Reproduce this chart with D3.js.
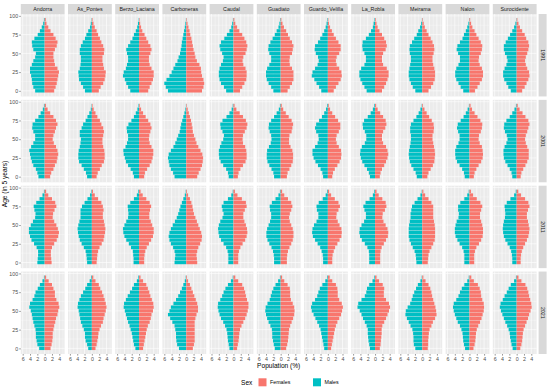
<!DOCTYPE html>
<html><head><meta charset="utf-8">
<script src="https://cdn.jsdelivr.net/npm/d3@7"></script>
<style>body{margin:0;background:#fff}svg{display:block;font-family:"Liberation Sans",Arial,sans-serif}</style>
</head><body><svg id="c" width="550" height="391"></svg>
<script>
const regions = ["Andorra","As_Pontes","Berzo_Laciana","Carboneras","Caudal","Guadiato","Guardo_Velilla","La_Robla","Meirama","Nalon","Surocidente"];
const years = ["1991","2001","2011","2021"];
const ages = [0,5,10,15,20,25,30,35,40,45,50,55,60,65,70,75,80,85,90,95];
const xTicks = [-6,-4,-2,0,2,4];
const yTicks = [0,25,50,75,100];
const sexes = ["Females","Males"];

const males1991 = [
[2.6,3.1,3.4,3.5,3.7,4.0,4.0,3.5,3.1,2.6,2.4,3.1,3.4,3.5,2.8,1.9,1.3,0.8,0.4,0.2],
[1.9,2.4,3.0,3.5,3.6,3.7,3.3,3.1,3.0,3.0,3.3,3.3,3.0,2.5,1.9,1.5,1.0,0.5,0.3,0.1],
[2.4,3.0,3.5,3.9,4.4,4.2,3.6,3.3,3.0,3.0,3.3,3.5,3.0,2.4,1.8,1.4,0.9,0.5,0.3,0.1],
[5.0,5.6,6.0,5.4,4.6,4.0,3.5,3.0,2.4,2.1,1.7,1.5,1.3,1.2,1.0,0.8,0.6,0.4,0.25,0.1],
[2.0,2.6,3.4,3.8,4.0,4.0,3.8,3.4,2.9,2.7,3.1,3.6,3.8,3.4,2.5,1.8,1.1,0.6,0.35,0.15],
[2.0,2.6,3.3,3.8,4.0,4.0,3.7,3.1,2.6,2.6,3.1,3.4,3.3,2.8,2.2,1.6,1.1,0.6,0.35,0.15],
[1.8,2.4,3.1,3.7,4.4,4.2,3.5,2.8,2.5,2.7,3.3,3.6,3.5,2.7,2.1,1.5,1.0,0.6,0.35,0.15],
[2.3,2.9,3.5,4.0,4.3,4.3,3.8,2.9,2.5,2.5,2.9,3.4,3.5,3.4,2.5,1.7,1.1,0.6,0.4,0.15],
[1.9,2.6,3.1,3.5,3.7,3.7,3.5,3.3,3.1,3.1,3.4,3.5,3.4,2.8,2.2,1.5,1.1,0.6,0.3,0.1],
[1.7,2.4,3.0,3.6,3.9,3.9,3.6,3.0,2.6,2.6,3.1,3.5,3.3,2.6,1.9,1.5,1.0,0.6,0.3,0.1],
[1.6,2.3,2.8,3.4,3.7,3.7,3.3,2.8,2.5,2.7,3.2,3.5,3.5,3.0,2.4,1.8,1.2,0.7,0.35,0.1]];
const females1991 = [
[2.6,3.0,3.3,3.5,3.7,3.9,3.5,2.8,2.6,2.4,2.4,2.8,3.3,3.5,3.0,2.4,1.6,1.0,0.5,0.3],
[1.9,2.4,3.1,3.5,3.7,3.8,3.3,3.1,2.9,2.9,3.3,3.4,3.1,2.6,2.2,1.7,1.3,0.8,0.45,0.2],
[2.5,2.9,3.4,3.8,4.0,4.0,3.4,2.9,2.7,2.7,3.1,3.4,3.1,2.5,2.0,1.5,0.9,0.55,0.3,0.15],
[4.3,4.7,4.9,4.7,4.3,4.1,4.0,3.6,2.9,2.5,2.3,2.0,1.8,1.6,1.4,1.1,0.9,0.6,0.35,0.15],
[1.8,2.4,3.0,3.5,3.6,3.6,3.3,2.7,2.5,2.7,3.3,3.6,3.8,3.5,3.0,2.4,1.6,1.0,0.5,0.25],
[1.9,2.5,3.1,3.5,3.5,3.5,3.1,2.5,2.4,2.5,3.1,3.3,3.5,3.1,2.5,2.0,1.5,0.9,0.5,0.2],
[1.6,2.2,2.9,3.5,3.8,3.7,3.1,2.4,2.2,2.4,3.1,3.5,3.5,2.9,2.2,1.6,1.1,0.6,0.3,0.15],
[1.9,2.5,3.0,3.4,3.7,3.7,3.2,2.2,1.9,1.9,2.2,2.9,3.2,3.0,2.5,1.9,1.2,0.7,0.4,0.2],
[1.7,2.4,3.0,3.4,3.5,3.5,3.3,3.0,2.8,2.8,3.1,3.3,3.2,2.8,2.3,1.7,1.2,0.7,0.4,0.15],
[1.5,2.2,2.8,3.4,3.7,3.7,3.4,2.8,2.5,2.6,3.1,3.4,3.5,3.1,2.5,1.9,1.4,0.8,0.45,0.2],
[1.5,2.2,2.7,3.2,3.5,3.4,2.9,2.5,2.3,2.5,2.9,3.2,3.4,3.2,2.6,2.2,1.5,0.9,0.5,0.2]];
const males2001 = [
[1.7,2.0,2.4,3.1,3.5,3.8,4.0,4.2,3.7,3.1,2.6,2.6,3.1,3.4,3.3,2.6,1.7,1.1,0.5,0.2],
[1.3,1.6,2.2,2.8,3.5,3.7,3.7,3.6,3.3,3.1,3.0,3.3,3.3,2.8,2.4,1.7,1.2,0.7,0.3,0.1],
[1.4,1.7,2.3,3.0,3.6,3.9,4.2,4.3,3.7,3.3,3.0,3.0,3.3,3.4,2.9,2.1,1.4,0.9,0.45,0.15],
[3.2,3.6,4.2,4.6,4.8,5.0,4.8,4.2,3.5,3.0,2.6,2.2,1.8,1.6,1.4,1.1,0.8,0.5,0.25,0.1],
[1.3,1.5,2.0,2.8,3.5,3.9,4.0,4.0,3.7,3.3,2.8,2.6,3.0,3.5,3.6,3.0,1.9,1.1,0.5,0.2],
[1.8,2.0,2.5,3.1,3.6,3.8,3.8,3.7,3.2,2.7,2.5,2.6,3.0,3.3,3.2,2.6,1.8,1.1,0.5,0.2],
[1.3,1.5,2.0,2.7,3.4,3.9,4.2,4.2,3.5,2.8,2.5,2.6,3.2,3.5,3.2,2.4,1.6,1.0,0.5,0.2],
[1.4,1.7,2.2,2.9,3.5,3.9,4.1,4.0,3.6,2.8,2.4,2.4,2.8,3.3,3.4,3.0,2.0,1.2,0.6,0.2],
[1.5,1.8,2.4,3.0,3.4,3.6,3.7,3.6,3.4,3.2,3.1,3.1,3.3,3.3,3.1,2.4,1.6,1.0,0.5,0.15],
[1.3,1.5,2.0,2.7,3.4,3.8,3.9,3.9,3.6,3.0,2.7,2.7,3.1,3.4,3.2,2.4,1.6,1.0,0.5,0.15],
[1.2,1.4,1.9,2.5,3.1,3.5,3.6,3.6,3.3,2.8,2.5,2.7,3.2,3.5,3.4,2.8,1.9,1.2,0.6,0.2]];
const females2001 = [
[1.5,1.8,2.4,2.8,3.3,3.5,3.7,3.5,3.1,2.5,2.2,2.4,2.8,3.1,3.5,3.1,2.4,1.5,0.8,0.35],
[1.3,1.6,2.2,2.7,3.3,3.5,3.5,3.4,3.1,2.9,2.9,3.1,3.3,3.1,2.6,2.2,1.5,1.0,0.5,0.2],
[1.4,1.6,2.2,2.9,3.4,3.7,3.9,3.9,3.4,2.9,2.7,2.8,3.1,3.4,3.1,2.5,1.8,1.1,0.55,0.2],
[3.0,3.4,3.9,4.3,4.5,4.6,4.4,3.9,3.3,2.8,2.5,2.1,1.8,1.7,1.5,1.3,1.0,0.7,0.4,0.15],
[1.2,1.4,1.9,2.6,3.3,3.6,3.6,3.5,3.2,2.6,2.5,2.6,3.1,3.6,3.8,3.4,2.6,1.7,0.8,0.3],
[1.7,1.9,2.4,2.9,3.3,3.4,3.4,3.2,2.7,2.3,2.3,2.4,3.0,3.2,3.4,3.0,2.2,1.4,0.7,0.3],
[1.2,1.4,1.9,2.6,3.2,3.6,3.7,3.6,3.0,2.4,2.2,2.4,3.0,3.4,3.4,2.8,2.0,1.2,0.6,0.25],
[1.3,1.5,1.9,2.5,3.0,3.4,3.6,3.4,3.0,2.2,1.9,1.9,2.2,2.8,3.1,2.9,2.2,1.4,0.7,0.3],
[1.4,1.7,2.3,2.9,3.3,3.4,3.5,3.4,3.2,3.0,2.8,2.8,3.1,3.2,3.1,2.6,1.9,1.2,0.6,0.2],
[1.2,1.4,1.9,2.5,3.2,3.6,3.7,3.6,3.4,2.8,2.5,2.6,3.1,3.4,3.5,3.0,2.2,1.4,0.7,0.3],
[1.1,1.3,1.8,2.4,2.9,3.3,3.3,3.3,2.9,2.5,2.3,2.5,2.9,3.2,3.5,3.2,2.4,1.6,0.8,0.3]];
const males2011 = [
[2.0,1.9,1.8,1.8,2.2,2.9,3.6,4.0,4.3,4.3,3.8,3.2,2.6,2.5,2.8,3.0,2.3,1.4,0.6,0.2],
[1.3,1.4,1.5,1.7,2.2,2.8,3.3,3.6,3.8,3.9,3.7,3.4,3.1,3.1,3.1,2.7,2.0,1.2,0.5,0.15],
[1.5,1.5,1.6,1.7,2.2,2.8,3.5,4.0,4.3,4.4,4.0,3.5,3.0,2.9,3.0,3.1,2.4,1.4,0.6,0.2],
[3.2,3.1,3.0,3.2,3.6,4.2,4.6,4.8,4.6,4.2,3.7,3.1,2.6,2.2,1.9,1.6,1.2,0.8,0.4,0.15],
[1.4,1.4,1.4,1.6,2.0,2.7,3.4,3.9,4.1,4.2,4.0,3.6,3.0,2.7,3.0,3.2,2.7,1.5,0.6,0.2],
[1.8,1.8,1.9,2.1,2.5,3.1,3.6,3.9,3.9,3.7,3.3,2.9,2.6,2.6,2.9,3.0,2.4,1.4,0.6,0.2],
[1.3,1.3,1.4,1.7,2.1,2.8,3.5,4.1,4.3,4.2,3.8,3.1,2.6,2.6,3.0,3.1,2.5,1.4,0.6,0.2],
[1.6,1.6,1.6,1.7,2.1,2.8,3.6,4.1,4.3,4.2,3.7,3.0,2.5,2.5,2.9,3.2,2.6,1.5,0.6,0.2],
[1.6,1.7,1.8,2.1,2.6,3.1,3.5,3.7,3.7,3.7,3.6,3.4,3.2,3.2,3.0,2.8,2.1,1.3,0.5,0.15],
[1.4,1.4,1.4,1.6,2.0,2.7,3.3,3.8,4.0,4.0,3.8,3.5,3.0,2.9,3.1,3.1,2.5,1.4,0.6,0.2],
[1.2,1.2,1.3,1.5,1.9,2.5,3.1,3.5,3.7,3.8,3.7,3.5,3.2,3.1,3.2,3.3,2.7,1.7,0.7,0.25]];
const females2011 = [
[1.9,1.8,1.7,1.7,2.0,2.6,3.3,3.7,3.9,3.6,3.2,2.6,2.2,2.3,2.7,3.2,2.9,2.0,1.0,0.4],
[1.3,1.4,1.5,1.7,2.1,2.7,3.2,3.4,3.6,3.7,3.5,3.3,3.0,3.0,3.2,3.0,2.6,1.7,0.8,0.3],
[1.4,1.4,1.5,1.7,2.1,2.7,3.3,3.8,4.0,4.0,3.6,3.2,2.8,2.8,3.0,3.3,2.9,2.0,1.0,0.4],
[3.0,2.9,2.8,3.0,3.3,3.8,4.2,4.3,4.1,3.7,3.3,2.9,2.5,2.1,1.9,1.7,1.4,1.0,0.5,0.2],
[1.3,1.3,1.3,1.5,1.9,2.5,3.2,3.6,3.8,3.7,3.4,3.0,2.7,2.7,3.1,3.6,3.4,2.3,1.1,0.4],
[1.7,1.7,1.8,2.0,2.4,2.9,3.3,3.5,3.5,3.3,2.9,2.5,2.3,2.5,2.9,3.2,2.9,2.0,1.0,0.4],
[1.2,1.2,1.3,1.6,2.0,2.6,3.2,3.7,3.8,3.7,3.2,2.7,2.3,2.4,2.9,3.3,2.9,1.9,0.9,0.35],
[1.4,1.4,1.4,1.5,1.8,2.4,3.0,3.5,3.6,3.4,2.9,2.3,2.0,2.1,2.7,3.1,2.9,2.0,1.0,0.4],
[1.5,1.6,1.7,2.0,2.5,3.0,3.4,3.5,3.5,3.5,3.4,3.2,3.0,3.0,3.0,3.0,2.5,1.7,0.8,0.3],
[1.3,1.3,1.3,1.5,1.9,2.6,3.2,3.6,3.7,3.7,3.5,3.2,2.9,2.9,3.2,3.5,3.0,2.0,1.0,0.4],
[1.1,1.1,1.2,1.4,1.8,2.3,2.8,3.2,3.4,3.5,3.3,3.1,2.8,2.8,3.1,3.5,3.2,2.3,1.2,0.45]];
const males2021 = [
[1.5,2.0,2.2,2.4,2.4,2.5,2.8,3.1,3.3,3.5,3.8,4.2,4.0,3.3,2.8,2.5,1.9,1.3,0.6,0.2],
[1.0,1.3,1.7,1.9,1.9,2.2,2.6,3.0,3.2,3.4,3.6,3.9,3.8,3.4,3.0,2.4,1.8,1.3,0.6,0.2],
[1.0,1.4,1.6,1.8,2.0,2.3,2.6,3.0,3.3,3.6,3.9,4.2,4.1,3.6,3.1,2.5,1.9,1.4,0.6,0.2],
[2.0,2.5,2.7,2.8,2.8,3.0,3.2,3.8,4.4,5.0,4.6,4.2,3.5,2.8,2.2,1.7,1.2,0.8,0.4,0.15],
[1.1,1.3,1.5,1.6,1.7,1.9,2.3,2.8,3.4,3.8,4.1,4.3,4.2,3.6,3.1,2.7,2.2,1.5,0.7,0.2],
[1.6,1.9,2.1,2.3,2.3,2.4,2.8,3.3,3.7,4.0,4.2,4.1,3.6,3.0,2.7,2.4,2.0,1.4,0.7,0.2],
[1.0,1.2,1.4,1.6,1.8,2.0,2.4,2.9,3.4,3.9,4.4,4.6,4.3,3.5,2.9,2.6,2.2,1.5,0.7,0.2],
[1.4,1.6,1.8,1.9,2.0,2.0,2.3,2.8,3.3,3.7,4.2,4.8,4.6,3.7,2.8,2.4,2.2,1.6,0.7,0.2],
[1.9,2.3,2.4,2.4,2.5,2.7,3.2,3.7,4.2,4.6,4.5,4.0,3.3,2.9,2.6,2.2,1.7,1.2,0.5,0.15],
[1.2,1.5,1.7,1.8,1.9,2.2,2.6,3.2,3.6,4.0,4.3,4.5,4.3,3.6,3.0,2.6,2.1,1.4,0.6,0.2],
[1.1,1.4,1.6,1.8,1.9,2.2,2.6,3.1,3.5,3.9,4.3,4.6,4.4,3.8,3.3,2.7,2.2,1.6,0.7,0.2]];
const females2021 = [
[1.6,1.9,2.1,2.2,2.2,2.4,2.6,2.9,3.1,3.5,3.7,4.0,3.8,3.2,2.8,2.8,2.4,2.0,1.1,0.4],
[1.0,1.3,1.5,1.7,1.8,2.1,2.5,3.0,3.2,3.5,3.8,4.0,3.8,3.5,3.2,2.8,2.3,1.9,1.0,0.4],
[1.1,1.3,1.5,1.7,1.9,2.1,2.4,2.9,3.2,3.4,3.8,4.0,3.9,3.5,3.1,2.8,2.4,2.0,1.1,0.4],
[1.8,2.1,2.3,2.3,2.3,2.3,2.3,2.3,2.5,2.8,3.2,3.2,3.0,2.6,2.2,1.8,1.4,1.0,0.5,0.2],
[1.0,1.2,1.4,1.5,1.6,1.8,2.2,2.7,3.2,3.6,3.9,4.1,4.1,3.7,3.4,3.2,2.9,2.4,1.3,0.5],
[1.5,1.8,2.0,2.1,2.2,2.3,2.6,3.0,3.4,3.7,3.8,3.7,3.3,2.8,2.6,2.6,2.5,1.9,1.0,0.4],
[0.9,1.1,1.3,1.5,1.7,1.9,2.2,2.6,3.1,3.6,3.9,4.1,3.8,3.1,2.7,2.7,2.6,2.2,1.2,0.5],
[1.3,1.5,1.6,1.7,1.8,1.8,2.0,2.5,3.0,3.4,3.8,4.1,3.8,3.0,2.4,2.4,2.5,2.1,1.1,0.4],
[1.5,1.6,1.6,1.7,1.8,2.0,2.5,2.9,3.5,3.9,3.8,3.6,3.3,3.0,2.7,2.5,2.2,1.7,0.9,0.3],
[1.1,1.4,1.6,1.7,1.8,2.0,2.4,2.9,3.3,3.6,3.9,4.0,3.9,3.5,3.2,3.1,2.8,2.3,1.2,0.5],
[1.0,1.3,1.5,1.6,1.7,1.9,2.3,2.7,3.1,3.4,3.8,4.1,4.0,3.7,3.4,3.2,2.9,2.4,1.3,0.5]];

const malesByYear = [males1991, males2001, males2011, males2021];
const femalesByYear = [females1991, females2001, females2011, females2021];

const colFemale = "#F8766D", colMale = "#00BFC4";
const L = 20.8, PW = 43.8, GAP = 3.4, T = 14, PH = 82.45;
const svg = d3.select("#c");
const x = d3.scaleLinear().domain([-6.52, 5.45]).range([0, PW]);
const y = d3.scaleLinear().domain([-7.5, 102.5]).range([PH, 0]);
const bw = 2.25;
const xMinor = [-5,-3,-1,1,3,5], yMinor = [12.5,37.5,62.5,87.5];

years.forEach((yr, r) => {
  regions.forEach((reg, c) => {
    const g = svg.append("g").attr("transform", `translate(${L + c*(PW+GAP)},${T + r*(PH+GAP)})`);
    g.append("rect").attr("width", PW).attr("height", PH).attr("fill", "#EBEBEB");
    g.selectAll("line.vmin").data(xMinor).join("line").attr("x1", d=>x(d)).attr("x2", d=>x(d)).attr("y1",0).attr("y2",PH).attr("stroke","#fff").attr("stroke-width",0.3);
    g.selectAll("line.hmin").data(yMinor).join("line").attr("y1", d=>y(d)).attr("y2", d=>y(d)).attr("x1",0).attr("x2",PW).attr("stroke","#fff").attr("stroke-width",0.3);
    g.selectAll("line.vmaj").data(xTicks).join("line").attr("x1", d=>x(d)).attr("x2", d=>x(d)).attr("y1",0).attr("y2",PH).attr("stroke","#fff").attr("stroke-width",0.6);
    g.selectAll("line.hmaj").data(yTicks).join("line").attr("y1", d=>y(d)).attr("y2", d=>y(d)).attr("x1",0).attr("x2",PW).attr("stroke","#fff").attr("stroke-width",0.6);
    const m = malesByYear[r][c], f = femalesByYear[r][c];
    g.selectAll("rect.m").data(ages).join("rect").attr("class","m")
      .attr("x", (d,i)=>x(-m[i])).attr("width",(d,i)=>x(0)-x(-m[i]))
      .attr("y", d=>y(d+bw)).attr("height", d=>y(d-bw)-y(d+bw)).attr("fill", colMale);
    g.selectAll("rect.f").data(ages).join("rect").attr("class","f")
      .attr("x", x(0)).attr("width",(d,i)=>x(f[i])-x(0))
      .attr("y", d=>y(d+bw)).attr("height", d=>y(d-bw)-y(d+bw)).attr("fill", colFemale);
    if (r === 0) {
      const s = svg.append("g").attr("transform", `translate(${L + c*(PW+GAP)},4)`);
      s.append("rect").attr("width", PW).attr("height", T-4).attr("fill", "#D9D9D9");
      s.append("text").attr("x", PW/2).attr("y", (T-4)/2).attr("dy","0.35em").attr("text-anchor","middle")
        .attr("font-size", 5.3).attr("fill", "#1A1A1A").text(reg);
    }
    if (c === 0) {
      const ax = g.append("g").call(d3.axisLeft(y).tickValues(yTicks).tickSize(1.6).tickPadding(1));
      ax.select(".domain").remove();
      ax.selectAll("line").attr("stroke","#333").attr("stroke-width",0.5);
      ax.selectAll("text").attr("font-size",5.3).attr("fill","#4D4D4D").attr("font-family",null);
    }
    if (r === years.length-1) {
      const ax = g.append("g").attr("transform",`translate(0,${PH})`).call(d3.axisBottom(x).tickValues(xTicks).tickSize(1.6).tickPadding(1.2).tickFormat(d=>Math.abs(d)));
      ax.select(".domain").remove();
      ax.selectAll("line").attr("stroke","#333").attr("stroke-width",0.5);
      ax.selectAll("text").attr("font-size",5.3).attr("fill","#4D4D4D").attr("font-family",null);
    }
  });
  const sx = L + regions.length*(PW+GAP) - GAP + 2;
  const sy = T + r*(PH+GAP);
  const s = svg.append("g").attr("transform", `translate(${sx},${sy})`);
  s.append("rect").attr("width", 8).attr("height", PH).attr("fill", "#D9D9D9");
  s.append("text").attr("transform", `translate(4,${PH/2}) rotate(90)`).attr("dy","0.35em").attr("text-anchor","middle")
    .attr("font-size",5.3).attr("fill","#1A1A1A").text(yr);
});

svg.append("text").attr("x", (L + L + regions.length*(PW+GAP) - GAP)/2).attr("y", 367.5).attr("text-anchor","middle")
  .attr("font-size",6.6).attr("fill","#000").text("Population (%)");
svg.append("text").attr("transform", `translate(6.5,${T + (4*PH+3*GAP)/2}) rotate(-90)`).attr("text-anchor","middle")
  .attr("font-size",6.6).attr("fill","#000").text("Age (in 5 years)");

const lg = svg.append("g");
lg.append("text").attr("x",241).attr("y",384.6).attr("font-size",6.6).attr("fill","#000").text("Sex");
const keyX = [258.5, 313];
sexes.forEach((s,i) => {
  lg.append("rect").attr("x", keyX[i]).attr("y", 378.3).attr("width", 8).attr("height", 8).attr("fill", i===0?colFemale:colMale);
  lg.append("text").attr("x", keyX[i]+11.5).attr("y", 384.2).attr("font-size",5.3).attr("fill","#000").text(s);
});
</script></body></html>
